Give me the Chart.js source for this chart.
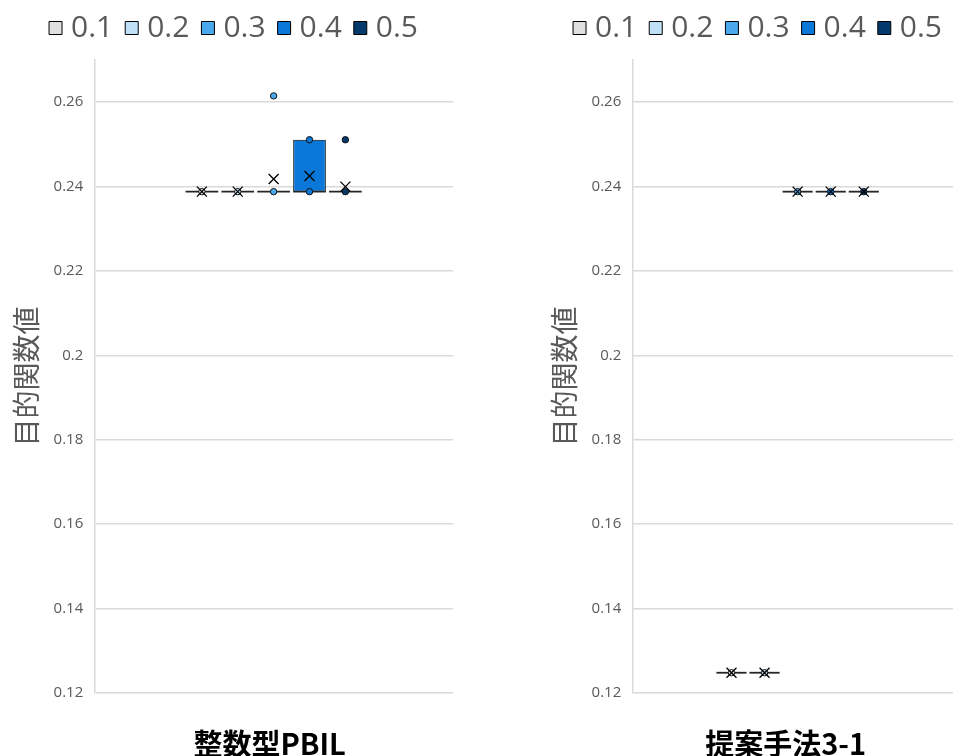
<!DOCTYPE html>
<html>
<head>
<meta charset="utf-8">
<script src="https://cdn.jsdelivr.net/npm/chart.js@4.4.1/dist/chart.umd.min.js"></script>
<style>
  html, body { margin: 0; padding: 0; background: #fff; overflow: hidden; width: 953px; height: 756px; }
  .panel { position: absolute; top: 0; height: 756px; }
  #p1 { left: 0; width: 466px; }
  #p2 { left: 538px; width: 438px; }
</style>
</head>
<body>
<div class="panel" id="p1"><canvas id="c1"></canvas></div>
<div class="panel" id="p2"><canvas id="c2"></canvas></div>
<script>
// Series (parameter values) shown in both panels
const seriesNames = ['0.1', '0.2', '0.3', '0.4', '0.5'];
const seriesColors = ['#e0e0e0', '#c0e0f8', '#4aa8ec', '#0a78d8', '#043a6b'];
const yTicks = [0.12, 0.14, 0.16, 0.18, 0.20, 0.22, 0.24, 0.26];
const yAxisTitle = '目的関数値';

// 整数型PBIL
const pbilCategory = ['整数型PBIL'];
const pbilQ1 = [0.2388, 0.2388, 0.2388, 0.2388, 0.2388];
const pbilMedian = [0.2388, 0.2388, 0.2388, 0.2388, 0.2388];
const pbilQ3 = [0.2388, 0.2388, 0.2388, 0.2511, 0.2388];
const pbilWhiskerLow = [0.2388, 0.2388, 0.2388, 0.2388, 0.2388];
const pbilWhiskerHigh = [0.2388, 0.2388, 0.2388, 0.2511, 0.2388];
const pbilMean = [0.2388, 0.2388, 0.2418, 0.2425, 0.2400];
const pbilPoints = [[0.2388], [0.2388], [0.2388, 0.2615], [0.2388, 0.2511], [0.2388, 0.2511]];

// 提案手法3-1
const propCategory = ['提案手法3-1'];
const propQ1 = [0.1248, 0.1248, 0.2388, 0.2388, 0.2388];
const propMedian = [0.1248, 0.1248, 0.2388, 0.2388, 0.2388];
const propQ3 = [0.1248, 0.1248, 0.2388, 0.2388, 0.2388];
const propWhiskerLow = [0.1248, 0.1248, 0.2388, 0.2388, 0.2388];
const propWhiskerHigh = [0.1248, 0.1248, 0.2388, 0.2388, 0.2388];
const propMean = [0.1248, 0.1248, 0.2388, 0.2388, 0.2388];
const propPoints = [[0.1248], [0.1248], [0.2388], [0.2388], [0.2388]];

// Draws whiskers, median lines, data points and mean markers on top of the boxes
const boxDecor = {
  id: 'boxDecor',
  afterInit(chart) {
    const lg = chart.legend;
    if (lg) {
      const fit = lg.fit;
      lg.fit = function () { fit.call(this); this.height = 65; };
    }
  },
  afterLayout(chart, args, opts) {
    const lg = chart.legend;
    if (lg && opts.legendShift) {
      lg.left += opts.legendShift;
      lg.right += opts.legendShift;
    }
  },
  afterDatasetsDraw(chart, args, opts) {
    const s = opts.stats;
    if (!s) return;
    const ctx = chart.ctx;
    const y = chart.scales.y;
    chart.data.datasets.forEach((ds, i) => {
      const el = chart.getDatasetMeta(i).data[0];
      if (!el) return;
      const cx = el.x, half = el.width / 2;
      const py = v => y.getPixelForValue(v);
      ctx.save();
      ctx.strokeStyle = '#262626';
      ctx.lineWidth = 1.8;
      // whiskers
      const wl = [[s.q3[i], s.whiskerHigh[i]], [s.q1[i], s.whiskerLow[i]]];
      wl.forEach(([a, b]) => {
        if (a !== b) {
          ctx.beginPath();
          ctx.moveTo(cx, py(a)); ctx.lineTo(cx, py(b));
          ctx.moveTo(cx - half / 2, py(b)); ctx.lineTo(cx + half / 2, py(b));
          ctx.stroke();
        }
      });
      // median
      ctx.beginPath();
      ctx.moveTo(cx - half, py(s.median[i]));
      ctx.lineTo(cx + half, py(s.median[i]));
      ctx.stroke();
      // points
      ctx.lineWidth = 1;
      ctx.strokeStyle = '#111';
      ctx.fillStyle = ds.backgroundColor;
      s.points[i].forEach(v => {
        ctx.beginPath();
        ctx.arc(cx, py(v), 3.2, 0, Math.PI * 2);
        ctx.fill();
        ctx.stroke();
      });
      // mean marker
      const my = py(s.mean[i]), m = 5;
      ctx.strokeStyle = '#000';
      ctx.lineWidth = 1.3;
      ctx.beginPath();
      ctx.moveTo(cx - m, my - m); ctx.lineTo(cx + m, my + m);
      ctx.moveTo(cx - m, my + m); ctx.lineTo(cx + m, my - m);
      ctx.stroke();
      ctx.restore();
    });
  }
};

function makeChart(id, category, stats, labelOffset) {
  const datasets = seriesNames.map((name, i) => ({
    label: name,
    data: [[stats.q1[i], stats.q3[i]]],
    backgroundColor: seriesColors[i],
    borderColor: '#000',
    borderWidth: 1,
    borderSkipped: false,
    categoryPercentage: 0.5,
    barPercentage: 0.91
  }));
  return new Chart(document.getElementById(id), {
    type: 'bar',
    data: { labels: category, datasets },
    plugins: [boxDecor],
    options: {
      responsive: true,
      maintainAspectRatio: false,
      animation: false,
      layout: { padding: { top: -5, left: 12, right: 13, bottom: -38 } },
      plugins: {
        legend: {
          position: 'top',
          labels: {
            usePointStyle: true,
            pointStyle: 'rect',
            boxWidth: 1,
            boxHeight: 13,
            padding: 18,
            color: '#595959',
            font: { family: '"Open Sans", sans-serif', size: 30 }
          }
        },
        tooltip: { enabled: false },
        boxDecor: { stats, legendShift: 4 }
      },
      scales: {
        x: {
          grid: { display: false, drawTicks: false },
          border: { display: false },
          ticks: {
            color: '#000',
            padding: 36,
            labelOffset: labelOffset,
            font: { family: '"Noto Sans CJK JP", sans-serif', size: 29, weight: 'bold', lineHeight: 1 }
          }
        },
        y: {
          min: 0.12,
          max: 0.27,
          afterBuildTicks: scale => { scale.ticks = yTicks.map(v => ({ value: v })); },
          ticks: {
            color: '#595959',
            padding: 11,
            font: { family: '"Open Sans", sans-serif', size: 15 },
            callback: v => String(+Number(v).toFixed(2))
          },
          grid: { color: '#d9d9d9', lineWidth: 1.5, drawTicks: false },
          border: { color: '#d9d9d9', width: 1.5 },
          title: {
            display: true,
            text: yAxisTitle,
            color: '#595959',
            padding: { top: -2, bottom: -1 },
            font: { family: '"Noto Sans CJK JP", sans-serif', size: 28 }
          }
        }
      }
    }
  });
}

makeChart('c1', pbilCategory, {
  q1: pbilQ1, median: pbilMedian, q3: pbilQ3,
  whiskerLow: pbilWhiskerLow, whiskerHigh: pbilWhiskerHigh,
  mean: pbilMean, points: pbilPoints
}, -4);

makeChart('c2', propCategory, {
  q1: propQ1, median: propMedian, q3: propQ3,
  whiskerLow: propWhiskerLow, whiskerHigh: propWhiskerHigh,
  mean: propMean, points: propPoints
}, -12);
</script>
</body>
</html>
